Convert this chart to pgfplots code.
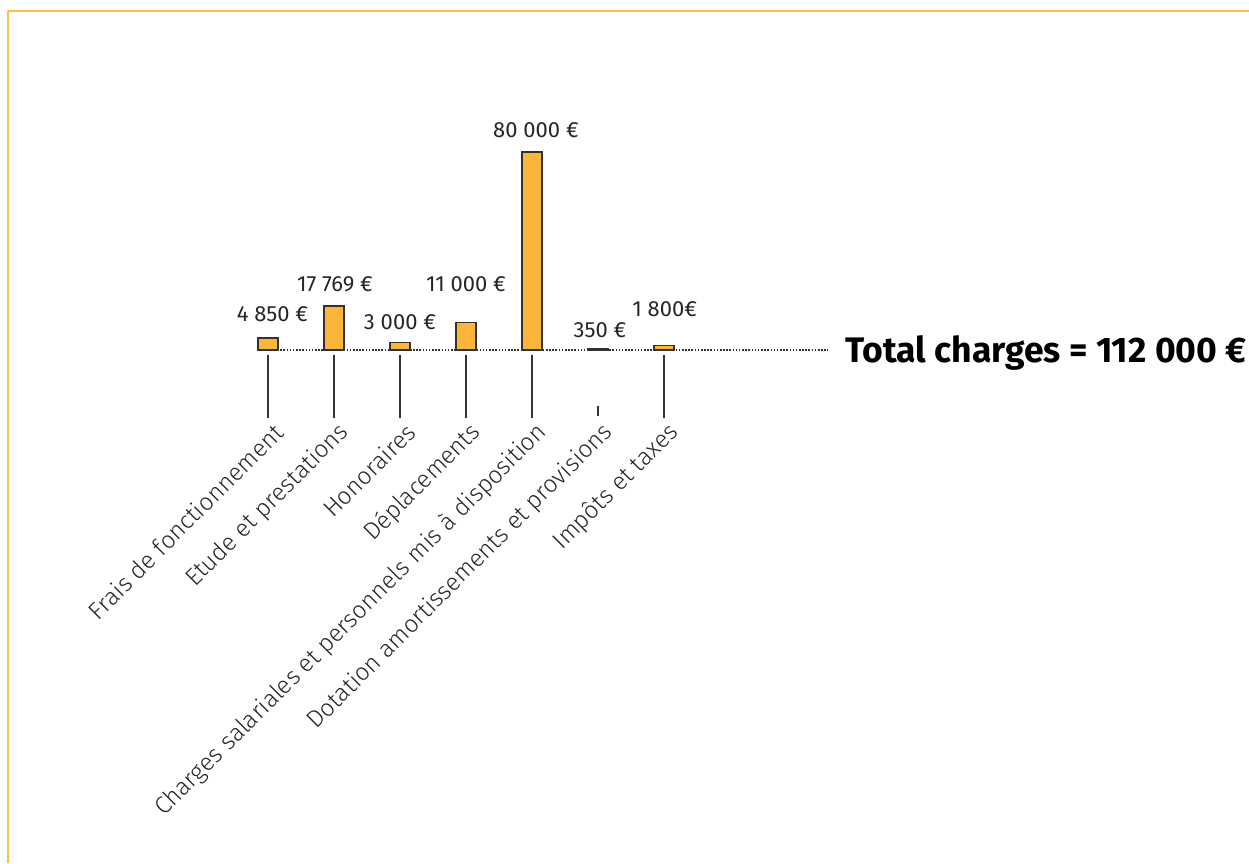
\documentclass[border=0pt]{standalone}
\usepackage{fontspec}
\setmainfont{Fira Sans}
\newfontfamily\lightfont{Fira Sans Light}
\usepackage{pgfplots}
\pgfplotsset{compat=1.18}
\definecolor{barorange}{HTML}{FBB53A}
\definecolor{frameorange}{HTML}{FDBE50}
\definecolor{inkgray}{HTML}{333333}
\begin{document}
\begin{tikzpicture}
% page = 1249 x 863 px, 1 px = 0.02cm
\useasboundingbox (0,0) rectangle (24.98cm,17.26cm);
\begin{axis}[
  at={(0.16cm,0)}, anchor=south west,
  scale only axis,
  width=24.82cm, height=17.04cm,
  xmin=-3.9394, xmax=14.864,
  ymin=-207273, ymax=136970,
  axis x line=top, axis y line=left,
  axis line style={-, frameorange, line width=1.1pt},
  xtick=\empty, ytick=\empty,
  clip=false
]
% bars
\addplot[ybar, bar width=0.4cm, fill=barorange, draw=inkgray, line width=0.8pt]
  coordinates {(0,4850) (1,17769) (2,3000) (3,11000) (4,80000) (5,350) (6,1800)};
% dotted baseline
\addplot[inkgray, line width=0.8pt, dash pattern=on 0.9pt off 0.9pt]
  coordinates {(-0.15,0) (8.48,0)};
% leader lines
\addplot[inkgray, line width=0.7pt, unbounded coords=jump] coordinates {
  (0,-2020) (0,-27475) (0,nan)
  (1,-2020) (1,-27475) (1,nan)
  (2,-2020) (2,-27475) (2,nan)
  (3,-2020) (3,-27475) (3,nan)
  (4,-2020) (4,-27475) (4,nan)
  (5,-22626) (5,-26667) (5,nan)
  (6,-2020) (6,-27475)
};
% value labels
\addplot[draw=none, mark=none, nodes near coords, point meta=explicit symbolic,
  every node near coord/.append style={anchor=center, font=\fontsize{12.5}{14}\selectfont, text=black!85}]
  coordinates {
  (0.068,14545)[4 850 €]
  (1.015,26667)[17 769 €]
  (2.0,11313)[3 000 €]
  (3.0,26667)[11 000 €]
  (4.06,88889)[80 000 €]
  (5.03,8081)[350 €]
  (6.01,16566)[1 800€]
};
% category labels
\addplot[draw=none, mark=none, nodes near coords, point meta=explicit symbolic,
  every node near coord/.append style={anchor=east, rotate=45, font=\lightfont\fontsize{13.8}{16}\selectfont, text=black!85}]
  coordinates {
  (0.23,-29900)[Frais de fonctionnement]
  (1.23,-29900)[Etude et prestations]
  (2.23,-29900)[Honoraires]
  (3.23,-29900)[Déplacements]
  (4.23,-29900)[Charges salariales et personnels mis à disposition]
  (5.23,-29900)[Dotation amortissements et provisions]
  (6.23,-29900)[Impôts et taxes]
};
\node[anchor=west, inner sep=0pt, font=\bfseries\fontsize{20.2}{24}\selectfont] at (axis cs:8.742,-1200) {Total charges = 112 000 €};
\end{axis}
\end{tikzpicture}
\end{document}
